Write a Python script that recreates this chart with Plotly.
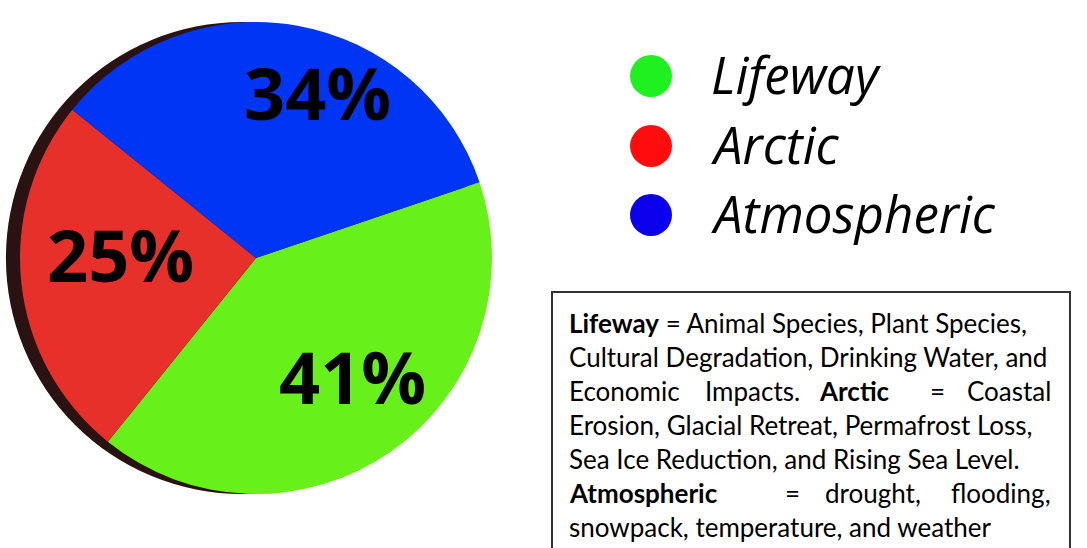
import plotly.graph_objects as go

# ---- data ----
categories = ["Lifeway", "Arctic", "Atmospheric"]
values = [41, 25, 34]
slice_colors = ["#68f01a", "#e8302a", "#0035f5"]
legend_colors = ["#1ff01f", "#ff0d0d", "#0a00ee"]
# label anchor positions (px in the 1087x548 canvas)
label_px = {"Lifeway": (352, 376), "Arctic": (120, 254), "Atmospheric": (318, 92)}

desc_lines = [
    "<b>Lifeway</b> = Animal Species, Plant Species,",
    "Cultural Degradation, Drinking Water, and",
    None,  # justified specially
    "Erosion, Glacial Retreat, Permafrost Loss,",
    "Sea Ice Reduction, and Rising Sea Level.",
    None,
    "snowpack, temperature, and weather",
]
line3_words = [("Economic", 567, "left"), ("Impacts.", 703, "left"), ("<b>Arctic</b>", 817, "left"),
               ("=", 928, "left"), ("Coastal", 1053, "right")]
line6_words = [("<b>Atmospheric</b>", 567, "left"), ("=", 783, "left"), ("drought,", 823, "left"),
               ("flooding,", 1053, "right")]

W, H = 1087, 548
def px(x): return x / W
def py(y): return (H - y) / H

cx, cy, r = 256, 258, 236
shadow_dx = 14

fig = go.Figure()
# shadow disc behind
fig.add_trace(go.Pie(
    values=[1], labels=["shadow"], marker=dict(colors=["#2a1212"], line=dict(width=0)),
    textinfo="none", hoverinfo="skip", showlegend=False, sort=False,
    domain=dict(x=[px(cx - shadow_dx - r), px(cx - shadow_dx + r)], y=[py(cy + r), py(cy - r)]),
))
fig.add_trace(go.Pie(
    labels=categories, values=values, sort=False, direction="clockwise", rotation=71.3,
    marker=dict(colors=slice_colors, line=dict(width=0)),
    textinfo="none", showlegend=False,
    domain=dict(x=[px(cx - r), px(cx + r)], y=[py(cy + r), py(cy - r)]),
))

total = sum(values)
annotations = []
for cat, v in zip(categories, values):
    x, y = label_px[cat]
    annotations.append(dict(
        x=px(x), y=py(y), xref="paper", yref="paper", showarrow=False,
        text=f"<b>{round(100 * v / total)}%</b>", xanchor="center", yanchor="middle",
        font=dict(family="Open Sans", size=72, color="black"),
    ))

# legend (manual, large circles)
shapes = []
leg_y = [76, 146, 215]
for cat, col, yy in zip(categories, legend_colors, leg_y):
    shapes.append(dict(type="circle", xref="paper", yref="paper",
                       x0=px(651 - 21), x1=px(651 + 21), y0=py(yy + 21), y1=py(yy - 21),
                       fillcolor=col, line=dict(width=0)))
    annotations.append(dict(x=px(709), y=py(yy - 2), xref="paper", yref="paper", showarrow=False,
                            text=f"<i>{cat}</i>", xanchor="left", yanchor="middle",
                            font=dict(family="Open Sans", size=51, color="black")))

# description box
shapes.append(dict(type="rect", xref="paper", yref="paper",
                   x0=px(552), x1=px(1070), y0=py(292), y1=py(570),
                   line=dict(color="#333333", width=2), fillcolor="rgba(0,0,0,0)"))
box_font = dict(family="Lato", size=26, color="black")
for i, line in enumerate(desc_lines):
    yy = 323 + 34 * i
    if line is not None:
        annotations.append(dict(x=px(567), y=py(yy), xref="paper", yref="paper", showarrow=False,
                                text=line, xanchor="left", yanchor="middle", font=box_font))
    else:
        words = line3_words if i == 2 else line6_words
        for w, xx, anc in words:
            annotations.append(dict(x=px(xx), y=py(yy), xref="paper", yref="paper", showarrow=False,
                                    text=w, xanchor=anc, yanchor="middle", font=box_font))

fig.update_layout(
    width=W, height=H, margin=dict(l=0, r=0, t=0, b=0),
    paper_bgcolor="white", plot_bgcolor="white",
    annotations=annotations, shapes=shapes, showlegend=False,
)
fig.write_html("out.html")
